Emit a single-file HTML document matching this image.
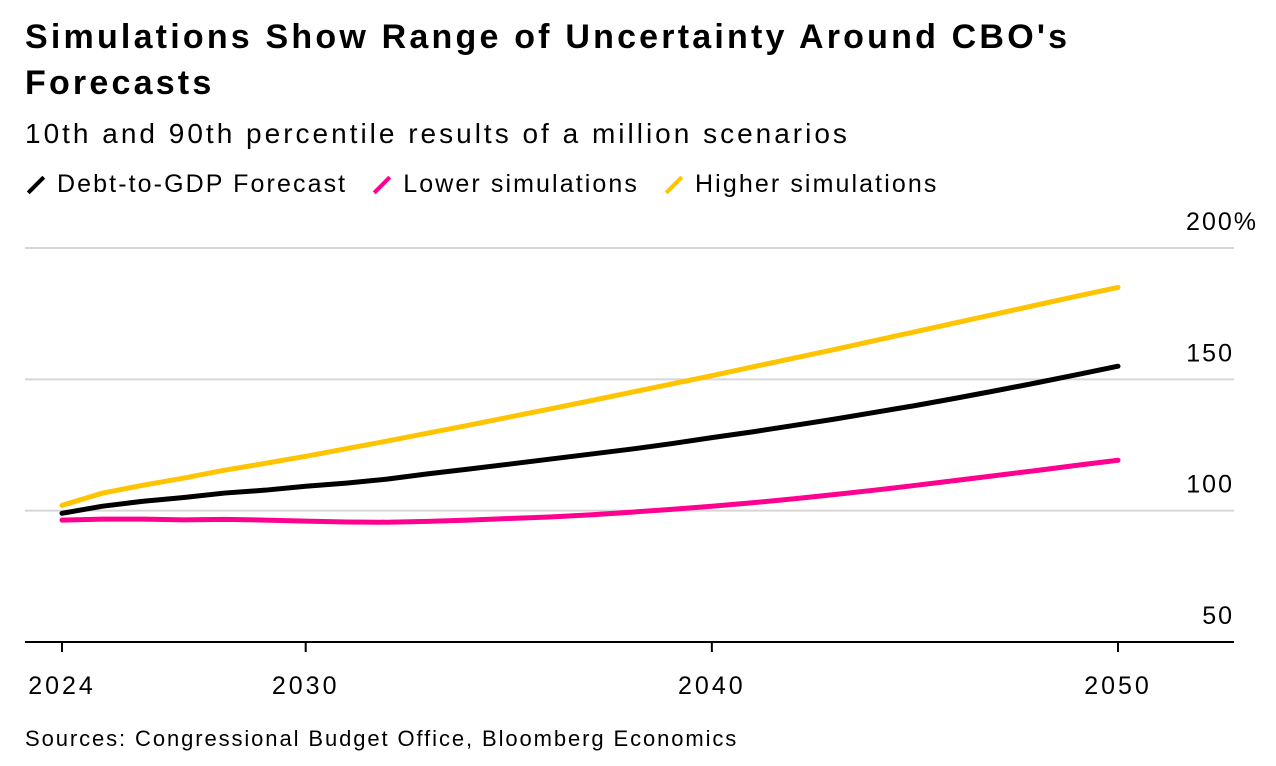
<!DOCTYPE html>
<html><head><meta charset="utf-8"><style>
body{margin:0;width:1276px;height:766px;background:#fff;font-family:"Liberation Sans",sans-serif;overflow:hidden;position:relative}
#title{position:absolute;left:25px;top:14px;font-size:34px;font-weight:bold;line-height:46px;color:#000;width:1120px;letter-spacing:3.2px}
#sub{position:absolute;left:25px;top:118px;font-size:28px;color:#000;letter-spacing:3px;white-space:nowrap}
#legend{position:absolute;left:25px;top:170px;font-size:25px;display:flex;gap:24px;letter-spacing:2.1px;white-space:nowrap}
.le{display:flex;align-items:center;gap:10px}
.sw{width:22px;height:4px;transform:rotate(-45deg);display:inline-block}
#src{position:absolute;left:25px;top:726px;font-size:22px;letter-spacing:1.9px;white-space:nowrap}
svg{position:absolute;left:0;top:0}
</style></head><body>
<div id="title">Simulations Show Range of Uncertainty Around CBO's Forecasts</div>
<div id="sub">10th and 90th percentile results of a million scenarios</div>
<div id="legend">
<div class="le"><span class="sw" style="background:#000"></span>Debt-to-GDP Forecast</div>
<div class="le"><span class="sw" style="background:#ff0090"></span>Lower simulations</div>
<div class="le"><span class="sw" style="background:#ffc400"></span>Higher simulations</div>
</div>
<svg id="chart" width="1276" height="766"></svg>
<div id="src">Sources: Congressional Budget Office, Bloomberg Economics</div>
<script>
const years=[2024,2025,2026,2027,2028,2029,2030,2031,2032,2033,2034,2035,2036,2037,2038,2039,2040,2041,2042,2043,2044,2045,2046,2047,2048,2049,2050];
const forecast=[99,101.7,103.6,105,106.7,107.8,109.3,110.5,112,114,115.8,117.7,119.6,121.5,123.4,125.5,127.8,130,132.4,134.8,137.4,140,142.8,145.7,148.7,151.8,155];
const lower=[96.4,96.8,96.8,96.5,96.7,96.4,96,95.7,95.6,95.9,96.4,97,97.6,98.4,99.4,100.5,101.7,103,104.5,106.1,107.8,109.6,111.5,113.4,115.3,117.3,119.2];
const higher=[102,106.7,109.7,112.4,115.4,118,120.7,123.6,126.5,129.5,132.5,135.6,138.7,141.8,145,148.2,151.4,154.7,158,161.3,164.7,168.1,171.5,174.9,178.3,181.7,185];
const yTicks=[50,100,150,200];
const yLabels=["50","100","150","200%"];
const xTicks=[2024,2030,2040,2050];
const svg=document.getElementById('chart');
const NS='http://www.w3.org/2000/svg';
const x=v=>62+(v-2024)*(1118-62)/26;
const y=v=>642-(v-50)*(642-248)/150;
function mk(t,a){const e=document.createElementNS(NS,t);for(const k in a)e.setAttribute(k,a[k]);svg.appendChild(e);return e;}
yTicks.forEach((t,i)=>{
 if(t>50){const l=mk('line',{x1:25,x2:1234,y1:y(t),y2:y(t),stroke:'#d6d6d6','stroke-width':2});
 
 }
 const tx=mk('text',{x:t===200?1258:1234,y:y(t)-18,'text-anchor':'end','font-size':25,'letter-spacing':2,'font-family':'Liberation Sans'});
 tx.textContent=yLabels[i];
 
 
});
const ax=mk('line',{x1:25,x2:1234,y1:642,y2:642,stroke:'#000','stroke-width':2});


xTicks.forEach(t=>{
 const tk=mk('line',{x1:x(t),x2:x(t),y1:642,y2:652,stroke:'#000','stroke-width':2});
 
 
 const tx=mk('text',{x:x(t),y:694,'text-anchor':'middle','font-size':25,'letter-spacing':3,'font-family':'Liberation Sans'});
 tx.textContent=t;
 
 
});
[[lower,'#ff0090','line-lower'],[forecast,'#000','line-forecast'],[higher,'#ffc400','line-higher']].forEach(([d,c,n])=>{
 const p=mk('polyline',{points:d.map((v,i)=>x(years[i])+','+y(v)).join(' '),fill:'none',stroke:c,'stroke-width':5,'stroke-linejoin':'round','stroke-linecap':'round'});
 
 
});
</script>
</body></html>
